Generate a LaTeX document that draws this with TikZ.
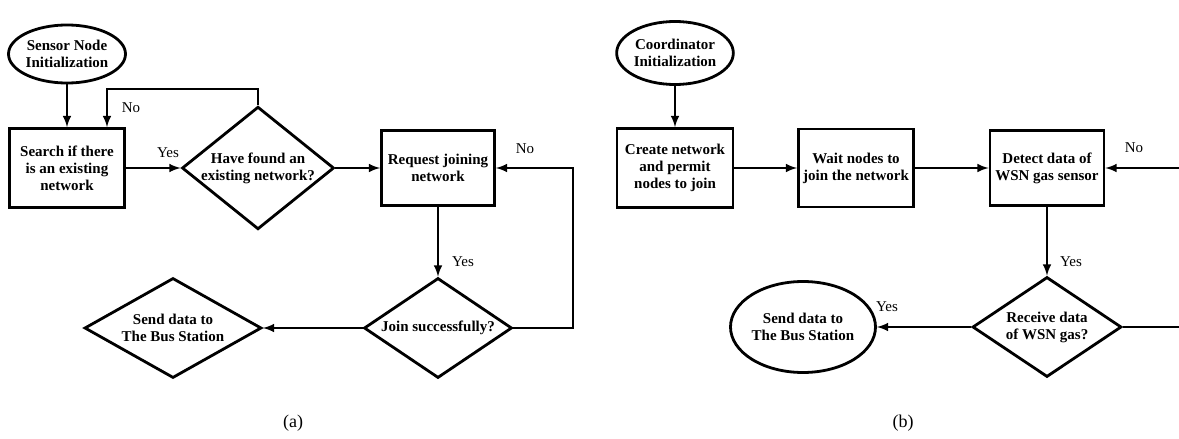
\documentclass[tikz,border=0pt]{standalone}
\usepackage{fontspec}
\setmainfont{Liberation Serif}
\usepackage{tikz}
\usetikzlibrary{arrows,shapes,positioning}

\begin{document}
\begin{tikzpicture}[x=1pt, y=-1pt, line width=2.8pt, >=latex,
        every node/.style={font=\fontsize{15}{17}\selectfont\bfseries, align=center, inner sep=0pt},
        proc/.style={draw, rectangle},
        cond/.style={draw, diamond, aspect=1.4},
        term/.style={draw, ellipse},
        lbl/.style={font=\fontsize{15}{17}\selectfont}]
        \useasboundingbox (0,0) rectangle (1179,439);

        % (a) sensor node
        \node[term, minimum width=117pt, minimum height=58pt] (inita) at (67,54) {Sensor Node\\Initialization};
        \node[proc, minimum width=115pt, minimum height=79pt] (search) at (67,168) {Search if there\\is an existing\\network};
        \node[cond, aspect=1.24, minimum width=149pt, minimum height=120pt] (found) at (258,168) {Have found an\\existing network?};
        \node[proc, minimum width=113pt, minimum height=75pt] (request) at (438,168) {Request joining\\network};
        \node[cond, minimum width=148pt, minimum height=100pt] (join) at (438,328) {Join successfully?};
        \node[cond, aspect=1.77, minimum width=177pt, minimum height=100pt] (senda) at (173,328) {Send data to\\The Bus Station};

        \node[lbl] (noa) at (131,108) {No};
        \node[lbl] (yesa) at (168,153) {Yes};
        \node[lbl] (nob) at (525,149) {No};
        \node[lbl] (yesb) at (463,262) {Yes};
        \node[lbl, font=\fontsize{18}{20}\selectfont] (capa) at (293,423) {(a)};

        \draw[->] (inita) -- (search);
        \coordinate (backa) at (107,89);
        \draw[->] (found.north) |- (backa) -- (backa |- search.north);
        \draw[->] (search) -- (found);
        \draw[->] (found) -- (request);
        \draw[->] (request) -- (join);
        \coordinate (backb) at (573,168);
        \draw[->] (join.east) -| (backb) -- (request.east);
        \draw[->] (join) -- (senda);

        % (b) coordinator
        \node[term, minimum width=106pt, minimum height=63pt] (initb) at (675,53) {Coordinator\\Initialization};
        \node[proc, minimum width=116pt, minimum height=79pt] (create) at (675,168) {Create network\\and permit\\nodes to join};
        \node[proc, minimum width=115pt, minimum height=78pt] (wait) at (856,168) {Wait nodes to\\join the network};
        \node[proc, minimum width=114pt, minimum height=75pt] (detect) at (1047,168) {Detect data of\\WSN gas sensor};
        \node[cond, aspect=1.49, minimum width=149pt, minimum height=100pt] (receive) at (1047,327) {Receive data\\of WSN gas?};
        \node[term, minimum width=138pt, minimum height=91pt] (sendb) at (803,327) {Send data to\\The Bus Station};

        \node[lbl] (noc) at (1134,148) {No};
        \node[lbl] (yesc) at (1071,262) {Yes};
        \node[lbl] (yesd) at (887,307) {Yes};
        \node[lbl, font=\fontsize{18}{20}\selectfont] (capb) at (903,423) {(b)};

        \draw[->] (initb) -- (create);
        \draw[->] (create) -- (wait);
        \draw[->] (wait) -- (detect);
        \draw[->] (detect) -- (receive);
        \coordinate (backc) at (1195,168);
        \draw[->] (receive.east) -| (backc) -- (detect.east);
        \draw[->] (receive) -- (sendb);

    \end{tikzpicture}
\end{document}
